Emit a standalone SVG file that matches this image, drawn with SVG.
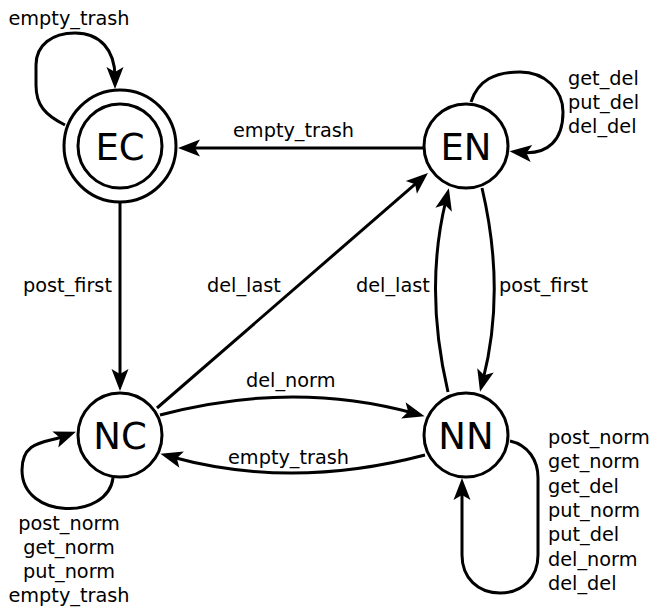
<svg xmlns="http://www.w3.org/2000/svg" width="651" height="607" viewBox="0 0 651 607">
<style>
.node{fill:#fff;stroke:#000;stroke-width:3}
.nl{font-family:"DejaVu Sans",sans-serif;font-size:37px;fill:#000;text-anchor:middle}
.el{font-family:"DejaVu Sans",sans-serif;font-size:19.3px;fill:#000}
.e{fill:none;stroke:#000;stroke-width:3;marker-end:url(#ah)}
</style>
<defs>
<marker id="ah" markerUnits="userSpaceOnUse" markerWidth="40" markerHeight="40" refX="0" refY="0" orient="auto" overflow="visible">
<path d="M12,0 L-10,-8.5 L-5,0 L-10,8.5 Z" fill="#000"/>
</marker>
</defs>
<rect width="651" height="607" fill="#fff"/>
<g id="connectors">
<path class="e" d="M65 125 C45 115 36 105 36 85 L36 65 C36 45 52 33 75 33 C100 33 115 50 115 77"/>
<path class="e" d="M424 148 L190 148"/>
<path class="e" d="M471 102 C478 80 495 72 520 72 C545 72 563 90 563 112 C563 140 548 155 521.5 152.5"/>
<path class="e" d="M120 203 L120 379"/>
<path class="e" d="M157 408 L418.9 180.9"/>
<path class="e" d="M482 188 Q506 290 483 380"/>
<path class="e" d="M448 392 Q424 290 446 200"/>
<path class="e" d="M160 415 Q292 380 413 413"/>
<path class="e" d="M425 455 Q292 490 172 457"/>
<path class="e" d="M113 478 C108 520 22 520 22 470 C22 440 46 443 64.7 436"/>
<path class="e" d="M510 441 C528 445 538 460 538 478 L538 555 C538 578 522 593 500 593 C478 593 462 578 462 555 L462 490"/>
</g>
<g id="EC">
<circle class="node" cx="120" cy="146" r="56"/>
<circle class="node" cx="120" cy="146" r="42"/>
<text class="nl" x="120" y="159.5">EC</text>
</g>
<g id="EN">
<circle class="node" cx="466" cy="146" r="42"/>
<text class="nl" x="466" y="159.5">EN</text>
</g>
<g id="NC">
<circle class="node" cx="120" cy="435" r="42"/>
<text class="nl" x="120" y="448.5">NC</text>
</g>
<g id="NN">
<circle class="node" cx="466" cy="435" r="42"/>
<text class="nl" x="466" y="448.5">NN</text>
</g>
<g id="labels">
<text class="el" x="69" y="25" text-anchor="middle">empty_trash</text>
<text class="el" x="233" y="137">empty_trash</text>
<text class="el" x="568" y="85">get_del</text>
<text class="el" x="568" y="109">put_del</text>
<text class="el" x="568" y="133">del_del</text>
<text class="el" x="23" y="292">post_first</text>
<text class="el" x="207" y="292">del_last</text>
<text class="el" x="356" y="292">del_last</text>
<text class="el" x="499" y="292">post_first</text>
<text class="el" x="246" y="386.5">del_norm</text>
<text class="el" x="228" y="464">empty_trash</text>
<text class="el" x="69" y="530" text-anchor="middle">post_norm</text>
<text class="el" x="69" y="554" text-anchor="middle">get_norm</text>
<text class="el" x="69" y="578" text-anchor="middle">put_norm</text>
<text class="el" x="69" y="602" text-anchor="middle">empty_trash</text>
<text class="el" x="548" y="444">post_norm</text>
<text class="el" x="548" y="468.3">get_norm</text>
<text class="el" x="548" y="492.6">get_del</text>
<text class="el" x="548" y="516.9">put_norm</text>
<text class="el" x="548" y="541.2">put_del</text>
<text class="el" x="548" y="565.5">del_norm</text>
<text class="el" x="548" y="589.8">del_del</text>
</g>
</svg>
